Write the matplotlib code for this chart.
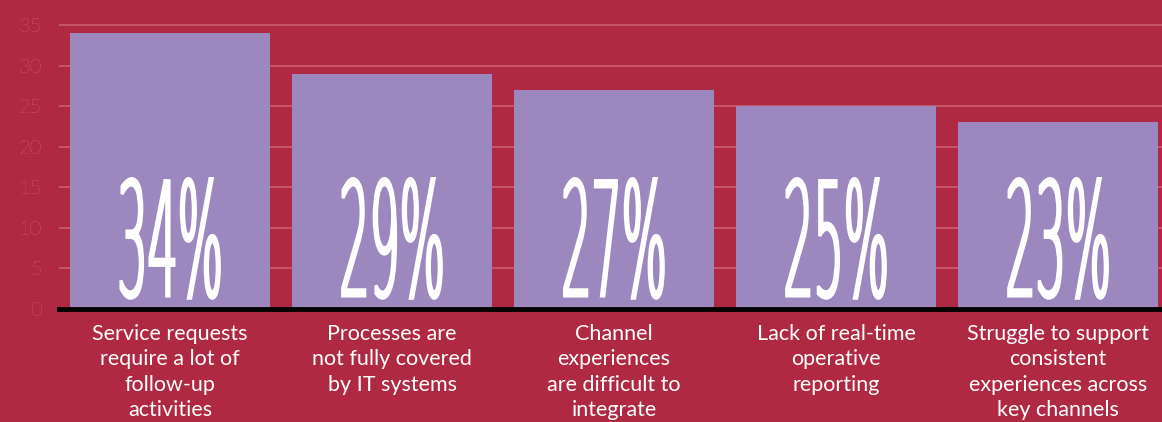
import matplotlib
matplotlib.use("Agg")
import matplotlib.pyplot as plt
from matplotlib.patheffects import AbstractPathEffect
from matplotlib.transforms import Affine2D

# --- data ---
categories = [
    "Service requests\nrequire a lot of\nfollow-up\nactivities",
    "Processes are\nnot fully covered\nby IT systems",
    "Channel\nexperiences\nare difficult to\nintegrate",
    "Lack of real-time\noperative\nreporting",
    "Struggle to support\nconsistent\nexperiences across\nkey channels",
]
values = [34, 29, 27, 25, 23]
yticks = [0, 5, 10, 15, 20, 25, 30, 35]

BG = "#b02942"
BAR = "#9c87be"
GRID = "#c9606f"
TICK = "#dc8690"


class Stretch(AbstractPathEffect):
    """Draw text rescaled around its centre / baseline, with a thin outline
    to fatten the strokes a bit (gives a tall condensed look)."""

    def __init__(self, sx, sy, lw=0.0):
        super().__init__()
        self.sx = sx
        self.sy = sy
        self.lw = lw

    def draw_path(self, renderer, gc, tpath, affine, rgbFace=None):
        ext = tpath.get_extents()
        cx = (ext.x0 + ext.x1) / 2
        t = Affine2D().translate(-cx, 0).scale(self.sx, self.sy).translate(cx, 0) + affine
        gc0 = renderer.new_gc()
        gc0.copy_properties(gc)
        gc0.set_linewidth(self.lw)
        gc0.set_foreground(rgbFace)
        gc0.set_joinstyle("miter")
        renderer.draw_path(gc0, tpath, t, rgbFace)
        gc0.restore()


fig = plt.figure(figsize=(11.62, 4.22), dpi=100, facecolor=BG)
ax = fig.add_axes([59 / 1162, 113 / 422, 1 - 59 / 1162, 309 / 422])
ax.set_facecolor(BG)

x = list(range(len(values)))
ax.bar(x, values, width=0.9, color=BAR, zorder=2)

for xi, v in zip(x, values):
    ax.text(xi, 1.6, f"{v}%", ha="center", va="baseline", color="white",
            fontsize=57, family="DejaVu Sans", fontweight=200, zorder=3,
            path_effects=[Stretch(0.60, 2.0, lw=2.2)])

ax.set_xlim(-0.5, 4.468)
ax.set_ylim(0, 38.08)
ax.set_yticks(yticks)
ax.set_yticklabels([str(t) for t in yticks], color=TICK, fontsize=14.5,
                   family="Lato", fontweight="light")
ax.tick_params(axis="y", length=0, pad=12)

ax.set_xticks(x)
ax.set_xticklabels(categories, color="white", fontsize=15.5, family="Lato",
                   linespacing=1.32)
ax.tick_params(axis="x", length=0, pad=11)

ax.grid(axis="y", color=GRID, linewidth=1.2, zorder=1)
ax.set_axisbelow(True)
for s in ["top", "right", "left"]:
    ax.spines[s].set_visible(False)
ax.spines["bottom"].set_color("black")
ax.spines["bottom"].set_linewidth(3.5)
ax.spines["bottom"].set_zorder(4)

fig.savefig("out.png", dpi=100, facecolor=BG)
